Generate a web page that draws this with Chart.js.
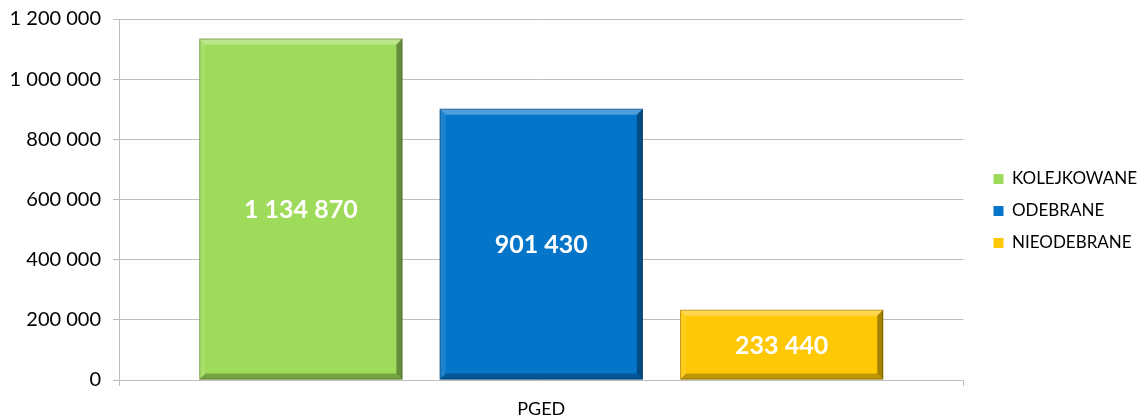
<!DOCTYPE html>
<html>
<head>
<meta charset="utf-8">
<script src="https://cdn.jsdelivr.net/npm/chart.js@4"></script>
<style>
  html, body { margin: 0; padding: 0; background: #fff; }
  #wrap { width: 1142px; height: 418px; }
</style>
</head>
<body>
<div id="wrap"><canvas id="chart"></canvas></div>
<script>
const categories = ['PGED'];
const seriesNames = ['KOLEJKOWANE', 'ODEBRANE', 'NIEODEBRANE'];
const kolejkowane = [1134870];
const odebrane = [901430];
const nieodebrane = [233440];
const seriesColors = ['#9FDB5A', '#0575C9', '#FFC805'];
const yTicks = [0, 200000, 400000, 600000, 800000, 1000000, 1200000];

const fmt = v => String(v).replace(/\B(?=(\d{3})+(?!\d))/g, ' ');

// bevel look of the bars
const bevelPlugin = {
  id: 'bevel',
  afterDatasetsDraw(chart) {
    const ctx = chart.ctx;
    const b = 6;
    chart.data.datasets.forEach((ds, i) => {
      chart.getDatasetMeta(i).data.forEach(bar => {
        const l = bar.x - bar.width / 2, r = bar.x + bar.width / 2;
        const t = bar.y, bt = bar.base;
        const poly = (pts, col) => {
          ctx.beginPath();
          ctx.moveTo(pts[0][0], pts[0][1]);
          pts.slice(1).forEach(p => ctx.lineTo(p[0], p[1]));
          ctx.closePath();
          ctx.fillStyle = col;
          ctx.fill();
        };
        ctx.save();
        poly([[l, t], [r, t], [r - b, t + b], [l + b, t + b]], 'rgba(255,255,255,0.30)');
        poly([[l, t], [l + b, t + b], [l + b, bt - b], [l, bt]], 'rgba(255,255,255,0.10)');
        poly([[r, t], [r, bt], [r - b, bt - b], [r - b, t + b]], 'rgba(0,0,0,0.35)');
        poly([[l, bt], [r, bt], [r - b, bt - b], [l + b, bt - b]], 'rgba(0,0,0,0.25)');
        ctx.strokeStyle = 'rgba(0,0,0,0.25)';
        ctx.lineWidth = 1;
        ctx.strokeRect(l + 0.5, t + 0.5, bar.width - 1, bt - t - 1);
        ctx.restore();
      });
    });
  }
};

// values in the middle of each bar
const labelPlugin = {
  id: 'barLabels',
  afterDatasetsDraw(chart) {
    const ctx = chart.ctx;
    ctx.save();
    ctx.font = 'bold 25px Lato';
    ctx.fillStyle = '#fff';
    ctx.textAlign = 'center';
    ctx.textBaseline = 'middle';
    chart.data.datasets.forEach((ds, i) => {
      chart.getDatasetMeta(i).data.forEach((bar, j) => {
        ctx.fillText(fmt(ds.data[j]), bar.x, (bar.y + bar.base) / 2 + 1);
      });
    });
    ctx.restore();
  }
};

// legend sits a bit further right, with a gap before it
const legendExtra = 10;
const legendShiftX = 15;
const legendShiftY = 4;
const legendShift = {
  id: 'legendShift',
  afterInit(chart) {
    const lg = chart.legend;
    const fit = lg.fit.bind(lg);
    const draw = lg.draw.bind(lg);
    lg.fit = function () { fit(); this.width += legendExtra; };
    lg.draw = function () {
      const l = this.left, t = this.top;
      this.left += legendShiftX;
      this.top += legendShiftY;
      draw();
      this.left = l;
      this.top = t;
    };
  }
};

new Chart(document.getElementById('chart'), {
  type: 'bar',
  data: {
    labels: categories,
    datasets: [
      { label: seriesNames[0], data: kolejkowane, backgroundColor: seriesColors[0] },
      { label: seriesNames[1], data: odebrane, backgroundColor: seriesColors[1] },
      { label: seriesNames[2], data: nieodebrane, backgroundColor: seriesColors[2] }
    ]
  },
  plugins: [bevelPlugin, labelPlugin, legendShift],
  options: {
    responsive: true,
    maintainAspectRatio: false,
    animation: false,
    categoryPercentage: 0.854,
    barPercentage: 0.845,
    layout: { padding: { top: 0, right: 0, left: 0, bottom: 0 } },
    plugins: {
      tooltip: { enabled: false },
      legend: {
        position: 'right',
        labels: {
          boxWidth: 10,
          boxHeight: 10,
          padding: 15,
          color: '#000',
          font: { family: 'Lato', size: 17 }
        }
      }
    },
    scales: {
      x: {
        grid: { drawOnChartArea: false, tickLength: 6, color: '#BEBEBE' },
        border: { color: '#BEBEBE' },
        ticks: { color: '#000', font: { family: 'Lato', size: 18 }, padding: 12 },
        afterFit(scale) { scale.height = 38; }
      },
      y: {
        min: 0,
        max: 1200000,
        afterBuildTicks(scale) { scale.ticks = yTicks.map(v => ({ value: v })); },
        grid: { color: '#BEBEBE', tickLength: 6 },
        border: { color: '#BEBEBE' },
        ticks: {
          color: '#000',
          font: { family: 'Lato', size: 20, lineHeight: 0.7 },
          padding: 12,
          callback: v => fmt(v)
        },
        afterFit(scale) { scale.width = 119; }
      }
    }
  }
});
</script>
</body>
</html>
